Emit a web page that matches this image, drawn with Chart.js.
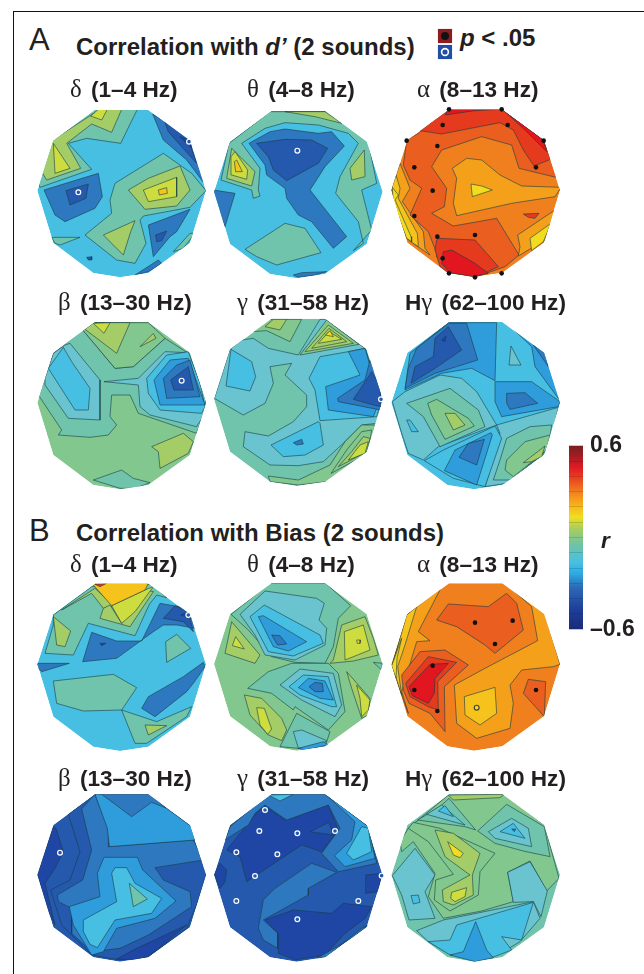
<!DOCTYPE html>
<html>
<head>
<meta charset="utf-8">
<title>Correlation maps</title>
<script src="https://cdn.jsdelivr.net/npm/chart.js@4"></script>
<style>
    html, body { margin: 0; padding: 0; background: #fff; }
    #page { position: relative; width: 644px; height: 974px; overflow: hidden; font-family: "Liberation Sans", Arial, sans-serif; color: #231f20; }
    #page canvas { position: absolute; filter: blur(0.4px); }
    #frame { position: absolute; left: 13px; top: 11px; width: 640px; height: 980px; border: 1.5px solid #111; }
    .txt { position: absolute; white-space: nowrap; line-height: 1; font-weight: bold; }
    .txt i.gr { font-family: "Liberation Serif", serif; font-style: normal; font-weight: normal; font-size: 1.1em; margin-right: 3px; }
    .big { font-size: 31px; font-weight: normal; }
    .head { font-size: 24px; }
    .sub { font-size: 22.6px; }
</style>
</head>
<body>
<div id="page"><div id="frame"></div></div>
<script>
// contour levels, low r to high r
const levelColors = ['#1f46a5', '#2459ae', '#2e78bf', '#2f9cdb', '#47bfe3', '#69c4cf', '#6fc4ab', '#82c78d',
    '#a4cd68', '#cddc3f', '#f3dc1f', '#f6c21c', '#f4a01b', '#f07f1d', '#ea5e1f', '#e63a1e', '#e2161f'];

// head outline, relative to each map's centre
const headOutline = [-80,-247, 80,-247, 205,-155, 253,-5, 205,152, 80,242, -5,255, -85,242, -205,152, -253,-5, -205,-155];

// regions are [level, [x,y, x,y, ...]], later ones lie on top
const aDelta = [
    [6, [225,28, 352,28, 302,130, 200,115, 145,130, 215,208, 60,262, 50,240, 100,110]],
    [8, [98,120, 240,28, 305,28, 275,97, 215,72, 140,130, 182,205, 80,240, 65,215]],
    [9, [100,130, 150,205, 105,220]],
    [9, [212,48, 235,28, 262,28, 245,60]],
    [2, [398,42, 510,110, 560,260, 500,180, 430,120]],
    [1, [430,55, 505,115, 530,190, 480,135, 445,95]],
    [0, [480,110, 510,120, 515,145]],
    [2, [72,270, 235,220, 247,290, 225,325, 135,365, 105,345]],
    [1, [138,272, 205,252, 198,295, 150,315]],
    [6, [285,250, 430,160, 515,220, 558,272, 510,322, 370,348, 360,360, 378,430, 345,490, 290,480, 195,405, 275,340, 270,300]],
    [8, [325,270, 385,235, 480,198, 510,270, 470,318, 375,328]],
    [9, [370,270, 470,232, 470,290, 385,305]],
    [11, [415,270, 440,263, 442,280, 418,285]],
    [8, [250,405, 345,362, 332,395, 310,465]],
    [2, [385,375, 510,328, 470,395, 450,410, 400,470]],
    [1, [407,405, 440,393, 425,422, 410,425]],
    [6, [460,455, 510,400, 525,400, 490,445]],
    [6, [95,412, 180,412, 120,435, 105,430]],
    [2, [345,525, 415,480, 425,490, 385,515]],
    [1, [200,472, 215,470, 215,480, 205,480]]
];
const aTheta = [
    [6, [72,130, 195,35, 365,35, 490,125, 515,250, 470,270, 500,390, 445,452, 475,430, 460,365, 392,280, 405,230, 460,130, 430,100, 340,75, 240,68, 180,85, 110,130, 165,205, 160,270, 165,288, 145,295, 140,270, 48,240]],
    [8, [240,35, 360,35, 410,70, 330,50]],
    [8, [435,205, 478,150, 480,230, 440,240]],
    [8, [65,235, 80,145, 150,215, 140,258]],
    [9, [78,170, 90,155, 128,210, 125,238, 80,225]],
    [11, [88,185, 95,180, 112,215, 92,215]],
    [2, [132,130, 195,95, 240,87, 340,100, 380,95, 418,138, 360,200, 315,270, 425,410, 385,445, 320,365, 280,345, 245,295, 240,265, 185,225, 180,195]],
    [1, [155,130, 240,118, 320,120, 368,145, 340,190, 245,242, 205,210, 190,170]],
    [2, [25,270, 90,280, 60,380, 25,290]],
    [6, [120,448, 240,370, 300,385, 348,458, 215,495, 155,470]],
    [2, [265,525, 290,518, 365,515, 330,525, 280,532]]
];
const aAlpha = [
    [12, [45,190, 75,265, 52,305, 115,395, 120,445, 135,465, 85,430, 30,330, 20,265]],
    [11, [33,225, 45,265, 40,295, 97,400, 100,440, 70,420, 25,310, 20,265]],
    [10, [22,262, 40,285, 30,300, 78,410, 80,425, 65,415, 25,310]],
    [14, [65,120, 100,100, 190,28, 350,28, 475,120, 525,235, 402,205, 380,135, 290,110, 170,150, 140,200, 185,265, 178,320, 140,340, 205,378, 335,355, 402,465, 360,500, 270,532, 190,520, 155,470, 155,460, 130,395, 75,345, 110,265, 75,240, 55,195]],
    [15, [105,92, 190,28, 350,28, 475,120, 497,178, 447,198, 415,150, 385,90, 345,68, 170,102]],
    [16, [180,45, 190,28, 345,28, 270,32]],
    [16, [352,28, 475,120, 485,155, 420,90]],
    [12, [202,205, 245,175, 290,180, 345,225, 410,258, 528,262, 510,290, 380,310, 215,347, 205,310, 215,235]],
    [10, [258,252, 290,258, 322,270, 262,290]],
    [12, [398,405, 510,330, 480,420, 400,468, 405,440]],
    [10, [435,415, 498,370, 475,425, 440,452]],
    [15, [415,342, 462,340, 450,355, 430,352]],
    [15, [155,420, 160,415, 270,420, 340,500, 280,528, 190,520, 165,500, 150,450]],
    [16, [175,455, 200,450, 270,490, 310,520, 265,530, 195,518, 170,490]]
];
const aBeta = [
    [6, [52,270, 100,130, 215,38, 190,62, 285,175, 340,170, 435,85, 505,130, 558,270, 550,310, 530,370, 355,310, 330,255, 275,255, 270,320, 290,345, 265,375, 210,382, 115,375, 125,360, 55,255]],
    [7, [190,62, 215,38, 385,38, 435,85, 340,170, 285,175]],
    [8, [195,58, 222,38, 330,38, 290,130]],
    [9, [220,40, 270,38, 252,70]],
    [8, [360,110, 400,70, 408,85]],
    [5, [75,205, 100,130, 135,105, 150,100, 240,210, 240,330, 145,325, 75,225]],
    [4, [85,175, 130,112, 155,155, 210,235, 205,300, 165,300]],
    [5, [252,215, 355,205, 435,125, 505,128, 558,270, 555,310, 530,350, 390,315, 360,290, 355,225]],
    [4, [380,205, 440,135, 505,125, 540,220, 555,290, 545,310, 420,300, 385,250]],
    [3, [402,210, 450,150, 505,145, 555,285, 420,285]],
    [2, [430,205, 470,165, 510,150, 540,260, 440,265]],
    [1, [452,210, 505,170, 520,240, 462,240]],
    [6, [220,510, 305,480, 340,505, 390,518, 345,535, 300,535]],
    [8, [395,410, 490,370, 520,395, 505,430, 420,475, 415,425]]
];
const aGamma = [
    [5, [28,265, 75,118, 110,90, 145,85, 190,115, 280,135, 345,28, 362,28, 480,115, 530,270, 515,340, 470,345, 420,395, 355,455, 280,467, 195,465, 115,410, 120,365, 190,378, 265,335, 305,290, 305,255, 240,195, 260,160, 195,170, 205,220, 180,280, 115,315]],
    [7, [140,65, 190,28, 290,28, 255,95, 185,62]],
    [8, [180,50, 205,28, 245,28, 225,60]],
    [4, [78,118, 140,155, 152,200, 135,243, 63,228]],
    [4, [198,405, 340,335, 345,340, 355,405, 300,435, 235,440]],
    [2, [265,398, 290,388, 295,402, 275,405]],
    [4, [312,205, 345,140, 430,125, 480,115, 530,270, 515,320, 345,332, 330,240]],
    [3, [362,230, 465,195, 430,125, 480,115, 525,270, 505,320, 370,300]],
    [2, [398,265, 480,210, 495,150, 528,230, 527,300, 400,275]],
    [1, [445,268, 500,185, 525,225, 528,290, 505,285]],
    [7, [285,135, 365,30, 462,103]],
    [8, [300,125, 370,45, 445,100]],
    [8, [320,115, 372,55, 425,95]],
    [9, [340,100, 372,65, 410,88]],
    [10, [362,75, 375,62, 385,80]],
    [7, [190,498, 280,510, 375,465, 420,395, 470,345, 510,345, 490,430, 365,515, 280,525, 195,515]],
    [7, [378,490, 425,420, 470,365, 500,360, 490,430]],
    [8, [400,470, 440,425, 475,380, 495,385, 485,425]],
    [9, [430,450, 465,405, 490,395, 480,430]]
];
const aHigh = [
    [3, [190,38, 335,38, 330,212, 260,175, 170,190, 60,240, 75,130]],
    [2, [60,235, 70,175, 95,115, 190,40, 245,40, 278,150, 150,190]],
    [1, [78,220, 90,170, 145,140, 150,85, 190,50, 230,120, 150,175]],
    [0, [170,90, 183,78, 180,95]],
    [3, [368,42, 440,110, 450,170, 525,272, 490,130]],
    [2, [445,105, 480,125, 490,170]],
    [5, [378,108, 408,165, 372,165]],
    [3, [330,215, 440,215, 525,275, 520,290, 350,320, 330,275]],
    [2, [365,250, 420,248, 458,280, 375,298, 365,280]],
    [5, [22,275, 60,245, 165,195, 230,205, 275,245, 335,345, 160,410, 115,450, 70,430, 50,370]],
    [5, [335,345, 520,292, 490,420, 365,520, 300,530, 345,370]],
    [6, [65,280, 195,235, 280,300, 300,350, 165,410, 115,320]],
    [7, [128,280, 155,268, 250,325, 268,348, 180,388, 140,315]],
    [8, [180,310, 210,310, 240,345, 205,360]],
    [4, [65,330, 75,330, 100,365, 80,365]],
    [6, [325,510, 345,450, 365,385, 435,350, 500,345, 490,415, 380,510]],
    [7, [360,480, 365,450, 420,395, 495,375, 485,420, 385,500]],
    [8, [415,458, 480,408, 470,440, 440,455]],
    [4, [118,452, 175,420, 330,348, 350,385, 300,530, 205,505]],
    [3, [178,482, 210,420, 318,368, 322,375, 275,525]],
    [2, [222,442, 250,400, 298,388, 275,465]]
];
const bDelta = [
    [6, [100,120, 215,35, 395,28, 440,68, 410,60, 388,88, 345,182, 205,145, 160,240, 75,235, 100,150]],
    [8, [125,105, 225,40, 280,92, 250,100, 215,55]],
    [8, [240,130, 250,100, 270,90, 305,145, 375,45, 400,50, 330,155]],
    [9, [275,92, 375,45, 400,35, 345,110, 305,145]],
    [11, [220,30, 225,25, 385,25, 375,45, 275,92]],
    [15, [225,28, 260,25, 240,35]],
    [8, [100,125, 152,168, 135,215, 110,210]],
    [2, [188,260, 215,172, 290,198, 365,198, 420,85, 505,100, 525,160, 470,150, 430,150, 400,170, 290,250]],
    [1, [430,130, 465,92, 505,110, 520,170, 490,140]],
    [0, [482,120, 505,110, 515,130]],
    [0, [240,205, 258,205, 245,212]],
    [2, [50,265, 148,265, 65,290, 50,275]],
    [6, [437,200, 470,178, 512,220, 440,262]],
    [6, [100,318, 280,298, 350,338, 305,405, 190,408, 110,385]],
    [2, [365,400, 385,365, 490,305, 550,262, 555,275, 520,325, 500,350, 405,425]],
    [6, [305,405, 410,440, 515,395, 500,425, 380,505, 345,505]],
    [8, [375,450, 440,452, 385,480]]
];
const bTheta = [
    [6, [78,118, 195,25, 362,25, 437,92, 400,130, 385,215, 360,265, 270,262, 200,245, 130,165]],
    [5, [105,118, 180,48, 335,70, 358,85, 342,135, 365,160, 360,210, 270,255, 180,240, 150,180]],
    [4, [135,125, 178,90, 345,180, 355,205, 265,243, 190,230]],
    [3, [160,125, 175,122, 305,200, 250,228, 205,215]],
    [2, [200,180, 225,182, 245,207, 218,210]],
    [6, [128,340, 190,290, 260,265, 370,265, 400,295, 420,410, 370,465, 270,395, 265,405, 200,355]],
    [5, [225,330, 285,282, 385,295, 410,390, 390,425, 290,375]],
    [4, [252,335, 295,300, 370,305, 395,395, 380,395, 285,360]],
    [3, [280,338, 310,310, 360,318, 385,375, 345,370]],
    [2, [312,335, 330,322, 352,325, 355,350, 330,350]],
    [8, [410,150, 480,125, 505,190, 520,240, 445,258, 375,265, 385,255]],
    [9, [418,170, 475,150, 495,225, 420,255]],
    [10, [455,195, 467,195, 465,205, 457,205]],
    [6, [505,262, 532,265, 530,285]],
    [8, [425,290, 495,370, 490,420, 470,430, 440,340]],
    [9, [455,330, 495,375, 490,405, 470,425, 465,370]],
    [8, [60,235, 80,140, 165,240, 150,265]],
    [9, [82,212, 92,185, 118,222]],
    [8, [118,360, 170,370, 230,430, 245,465, 230,497, 190,480, 135,420]],
    [9, [155,398, 178,400, 200,462, 188,478, 165,450]],
    [6, [225,515, 275,415, 375,470, 360,515, 280,520]],
    [5, [265,470, 290,465, 365,497, 340,515, 280,520]],
    [3, [280,520, 355,500, 370,510, 300,525]]
];
const bAlpha = [
    [12, [360,25, 478,108, 525,268, 505,275, 410,285, 375,330, 385,385, 375,460, 275,490, 215,445, 208,330, 300,280, 458,197, 440,95]],
    [14, [155,135, 190,87, 310,95, 365,55, 395,85, 415,165, 330,235, 300,210, 215,155]],
    [14, [415,355, 430,313, 482,320, 478,425]],
    [11, [238,365, 330,337, 335,415, 285,450, 240,420]],
    [12, [170,35, 100,170, 135,197, 95,200, 65,300, 50,350, 70,415, 25,290, 20,273, 65,120]],
    [11, [95,95, 60,210, 38,275, 50,360, 22,273, 65,120]],
    [10, [50,190, 36,250, 33,310, 20,273]],
    [14, [50,300, 105,230, 180,225, 250,270, 178,335, 180,470, 135,415, 72,385, 55,345]],
    [15, [62,325, 130,245, 215,262, 158,320, 160,405, 130,395, 75,365]],
    [16, [72,335, 135,268, 190,265, 150,310, 148,355, 130,385, 82,362]]
];
const bBeta = [
    [0, [52,268, 100,125, 108,130, 130,200, 105,250, 75,295, 105,420, 85,380]],
    [1, [145,88, 180,200, 150,285, 92,315, 125,420, 215,510, 300,525, 385,515, 500,430, 530,360, 558,270, 550,225, 225,28]],
    [2, [225,28, 185,72, 215,195, 188,285, 112,330, 115,350, 155,370, 155,445, 215,500, 300,490, 385,450, 515,365, 510,320, 430,285, 405,248, 550,225, 520,165, 265,185, 265,130]],
    [2, [240,28, 390,28, 440,70, 335,100]],
    [3, [225,28, 245,28, 335,95, 395,52, 440,70, 515,125, 525,165, 268,185, 262,130]],
    [3, [148,365, 240,335, 232,265, 252,217, 352,217, 368,255, 468,348, 405,400, 290,430, 250,500, 215,510, 160,420]],
    [4, [190,405, 290,350, 275,265, 285,248, 320,248, 345,295, 425,340, 395,385, 285,405, 232,488, 210,478, 190,440]],
    [6, [328,295, 382,342, 340,365]],
    [0, [290,522, 350,490, 500,420, 385,515, 340,525]]
];
const bGamma = [
    [0, [65,195, 150,90, 175,60, 240,105, 370,60, 400,135, 350,200, 290,180, 125,290, 105,215]],
    [2, [75,125, 190,28, 360,28, 490,125, 515,235, 400,260, 350,205, 405,130, 370,60, 245,105, 180,60, 150,85, 130,120, 60,165]],
    [4, [190,30, 265,28, 225,48]],
    [1, [315,140, 372,112, 385,150]],
    [3, [388,212, 440,165, 450,110, 362,28, 490,125, 510,220, 420,245]],
    [4, [425,205, 470,125, 490,130, 500,200, 445,225]],
    [2, [160,430, 175,345, 210,310, 320,235, 395,262, 310,310, 310,330, 175,405, 218,445, 218,490, 175,465]],
    [0, [28,268, 45,235, 65,255, 60,290, 45,310]],
    [0, [180,405, 265,375, 380,385, 415,355, 500,365, 480,400, 420,445, 360,510, 270,525, 220,505, 220,445]],
    [0, [482,270, 530,265, 520,320, 482,325]],
    [2, [335,520, 440,460, 490,420, 470,430, 365,515]]
];
const bHigh = [
    [7, [70,130, 190,30, 358,28, 478,120, 522,280, 485,318, 435,228, 368,262, 385,350, 290,378, 175,400, 130,335, 150,265, 85,170, 50,200, 45,170]],
    [5, [22,272, 90,190, 150,270, 120,320, 150,400, 72,405, 50,330]],
    [4, [78,332, 100,330, 105,352, 85,357]],
    [5, [368,262, 435,230, 487,318, 468,395, 445,350, 385,352]],
    [5, [95,437, 175,405, 445,350, 465,400, 405,470, 355,500, 320,515, 200,510, 130,470]],
    [4, [130,470, 195,465, 215,420, 445,352, 410,465, 350,455, 380,495, 320,518, 195,510]],
    [3, [195,510, 235,500, 272,410, 305,495, 325,518, 270,530]],
    [7, [70,130, 85,112, 165,130, 330,205, 285,260, 280,330, 195,378, 148,345, 152,285, 205,268, 130,170]],
    [8, [150,135, 205,145, 285,205, 262,270, 265,330, 205,360, 175,350, 172,315, 255,270, 180,215]],
    [10, [188,170, 235,205, 225,218, 205,210]],
    [9, [197,340, 200,322, 245,308, 240,335, 210,350]],
    [6, [98,105, 165,65, 192,40, 272,135, 240,125]],
    [5, [125,88, 170,60, 240,120]],
    [4, [160,78, 180,62, 205,95]],
    [8, [190,30, 358,28, 345,38, 205,45]],
    [6, [278,138, 365,58, 478,125, 495,215, 415,198, 330,175]],
    [5, [310,140, 380,100, 430,130, 440,185, 330,160]],
    [4, [345,140, 385,115, 420,160]],
    [2, [380,132, 392,132, 388,140]]
];

// significant electrodes: filled dots and open rings
const aDeltaOpen = [175,277, 507,125];
const aThetaOpen = [277,152];
const aAlphaDots = [192,28, 350,28, 173,75, 368,75, 65,122, 157,138, 476,122, 88,202, 453,202, 143,272, 88,348, 157,410, 270,405, 173,475, 192,520, 350,520, 270,532];
const aBetaOpen = [485,212];
const aGammaOpen = [528,268];
const bDeltaOpen = [505,120];
const bAlphaDots = [270,143, 383,137, 330,207, 143,272, 88,345, 157,408, 453,345];
const bAlphaOpen = [275,398];
const bBetaOpen = [120,203];
const bGammaOpen = [180,75, 163,138, 277,145, 390,138, 94,202, 217,208, 150,273, 94,348, 460,348, 277,403, 530,272];

const colorbarRange = [-0.6, 0.6];
const colorbarStep = 0.1;
const colorbarStops = ['#1a2a7a', '#1f3f9a', '#2b6bb8', '#2ca8e0', '#45bfe5', '#6fc4a5', '#a8cd5c', '#efdf20', '#f7b01a', '#f07f1d', '#ea4420', '#e01b23', '#9e1c24', '#7a1f1f'];
const colorbarOffsets = [0, 0.11, 0.23, 0.3, 0.36, 0.46, 0.55, 0.61, 0.68, 0.75, 0.82, 0.88, 0.95, 1];

// bg is the level of the whole head, cx/cy its centre in map units
const maps = [
    { left: 20, top: 100, cx: 305, cy: 277, bg: 4, regions: aDelta, open: aDeltaOpen },
    { left: 205, top: 100, cx: 280, cy: 280, bg: 4, regions: aTheta, open: aThetaOpen },
    { left: 385, top: 100, cx: 272, cy: 276, bg: 13, regions: aAlpha, dots: aAlphaDots },
    { left: 20, top: 310, cx: 305, cy: 283, bg: 7, regions: aBeta, open: aBetaOpen },
    { left: 205, top: 310, cx: 280, cy: 273, bg: 6, regions: aGamma, open: aGammaOpen },
    { left: 385, top: 310, cx: 272, cy: 283, bg: 4, regions: aHigh },
    { left: 20, top: 575, cx: 305, cy: 273, bg: 4, regions: bDelta, open: bDeltaOpen },
    { left: 205, top: 575, cx: 280, cy: 272, bg: 7, regions: bTheta },
    { left: 385, top: 575, cx: 272, cy: 272, bg: 13, regions: bAlpha, dots: bAlphaDots, open: bAlphaOpen },
    { left: 20, top: 785, cx: 305, cy: 275, bg: 1, regions: bBeta, open: bBetaOpen },
    { left: 205, top: 785, cx: 280, cy: 275, bg: 1, regions: bGamma, open: bGammaOpen },
    { left: 385, top: 785, cx: 272, cy: 275, bg: 6, regions: bHigh }
];

const labels = [
    ['big', 29, 24, 'A'], ['big', 29, 515, 'B'],
    ['head', 76, 35, 'Correlation with <i>d\u2019</i> (2 sounds)'],
    ['head', 76, 521, 'Correlation with Bias (2 sounds)'],
    ['head', 460, 26, '<i>p</i> &lt; .05'],
    ['sub', 70, 77, '<i class="gr">\u03b4</i> (1\u20134 Hz)'],
    ['sub', 247, 77, '<i class="gr">\u03b8</i> (4\u20138 Hz)'],
    ['sub', 417, 77, '<i class="gr">\u03b1</i> (8\u201313 Hz)'],
    ['sub', 58, 290, '<i class="gr">\u03b2</i> (13\u201330 Hz)'],
    ['sub', 237, 290, '<i class="gr">\u03b3</i> (31\u201358 Hz)'],
    ['sub', 405, 290, 'H<i class="gr">\u03b3</i> (62\u2013100 Hz)'],
    ['sub', 70, 552, '<i class="gr">\u03b4</i> (1\u20134 Hz)'],
    ['sub', 247, 552, '<i class="gr">\u03b8</i> (4\u20138 Hz)'],
    ['sub', 417, 552, '<i class="gr">\u03b1</i> (8\u201313 Hz)'],
    ['sub', 58, 766, '<i class="gr">\u03b2</i> (13\u201330 Hz)'],
    ['sub', 237, 766, '<i class="gr">\u03b3</i> (31\u201358 Hz)'],
    ['sub', 405, 766, 'H<i class="gr">\u03b3</i> (62\u2013100 Hz)'],
    ['sub', 601, 530, '<i>r</i>']
];

const page = document.getElementById('page');

function addCanvas(left, top, w, h) {
    const c = document.createElement('canvas');
    c.width = w;
    c.height = h;
    c.style.left = left + 'px';
    c.style.top = top + 'px';
    c.style.width = w + 'px';
    c.style.height = h + 'px';
    page.appendChild(c);
    return c;
}

function toPoints(flat) {
    let pts = [];
    for (let i = 0; i < flat.length; i += 2) {
        pts.push({ x: flat[i], y: flat[i + 1] });
    }
    return pts;
}

function regionDataset(level, pts, lined) {
    return {
        data: pts.concat([pts[0]]),
        showLine: true,
        fill: 'shape',
        tension: 0,
        pointRadius: 0,
        backgroundColor: levelColors[level],
        borderColor: lined ? 'rgba(25,60,70,.85)' : 'transparent',
        borderWidth: lined ? 0.7 : 0
    };
}

// everything but the electrodes stays inside the head
const clipToHead = {
    id: 'clipToHead',
    beforeDatasetsDraw(chart) {
        const m = chart.config.options.plugins.clipToHead.map;
        const ctx = chart.ctx;
        const pts = toPoints(headOutline);
        ctx.save();
        ctx.beginPath();
        pts.forEach(function (p, i) {
            const px = chart.scales.x.getPixelForValue(m.cx + p.x);
            const py = chart.scales.y.getPixelForValue(m.cy + p.y);
            if (i === 0) ctx.moveTo(px, py); else ctx.lineTo(px, py);
        });
        ctx.closePath();
        ctx.clip();
    },
    beforeDatasetDraw(chart, args) {
        if (args.index === 0) chart.ctx.restore();
    }
};

function drawMap(m) {
    const head = toPoints(headOutline).map(function (p) { return { x: m.cx + p.x, y: m.cy + p.y }; });
    let list = [regionDataset(m.bg, head, false)];
    m.regions.forEach(function (r) {
        list.push(regionDataset(r[0], toPoints(r[1]), true));
    });
    const dots = toPoints(m.dots || []);
    const open = toPoints(m.open || []);
    const marks = {
        data: dots.concat(open),
        showLine: false,
        clip: false,
        pointRadius: function (c) { return c.dataIndex < dots.length ? 2.3 : 2.4; },
        pointBackgroundColor: function (c) { return c.dataIndex < dots.length ? '#111' : (m.dots ? '#f3dc1f' : '#2459ae'); },
        pointBorderColor: function (c) { return c.dataIndex < dots.length ? '#111' : (m.dots ? '#444' : '#fff'); },
        pointBorderWidth: function (c) { return c.dataIndex < dots.length ? 0 : 1.2; }
    };
    new Chart(addCanvas(m.left, m.top, 190, 190), {
        type: 'scatter',
        data: { datasets: [marks].concat(list.reverse()) },
        plugins: [clipToHead],
        options: {
            responsive: false,
            animation: false,
            events: [],
            layout: { padding: 0, autoPadding: false },
            plugins: { legend: { display: false }, tooltip: { enabled: false }, clipToHead: { map: m } },
            scales: {
                x: { display: false, min: 0, max: 570 },
                y: { display: false, min: 0, max: 570, reverse: true }
            }
        }
    });
}

function drawColorbar() {
    new Chart(addCanvas(569, 425, 75, 225), {
        type: 'bar',
        data: {
            labels: ['r'],
            datasets: [{
                data: [colorbarRange],
                barPercentage: 1,
                categoryPercentage: 1,
                borderSkipped: false,
                backgroundColor: function (c) {
                    const area = c.chart.chartArea;
                    if (!area) return '#888';
                    const g = c.chart.ctx.createLinearGradient(0, area.bottom, 0, area.top);
                    colorbarStops.forEach(function (col, i) { g.addColorStop(colorbarOffsets[i], col); });
                    return g;
                }
            }]
        },
        options: {
            responsive: false,
            animation: false,
            events: [],
            layout: { padding: { top: 15, bottom: 18, left: 0, right: 0 }, autoPadding: false },
            plugins: { legend: { display: false }, tooltip: { enabled: false } },
            scales: {
                x: { display: false },
                y: {
                    position: 'right',
                    min: colorbarRange[0],
                    max: colorbarRange[1],
                    border: { display: false },
                    afterFit: function (s) { s.width = 61; },
                    grid: { drawTicks: false, z: 1, color: 'rgba(20,20,20,.22)', lineWidth: 0.7 },
                    ticks: {
                        stepSize: colorbarStep,
                        autoSkip: false,
                        color: '#231f20',
                        padding: 7,
                        font: { family: '"Liberation Sans", Arial, sans-serif', size: 23, weight: 'bold' },
                        callback: function (v) {
                            if (v > 0.59) return '0.6';
                            if (v < -0.59) return '\u20130.6';
                            return '';
                        }
                    }
                }
            }
        }
    });
}

function drawKey() {
    new Chart(addCanvas(434, 24, 22, 40), {
        type: 'scatter',
        data: {
            datasets: [
                { data: [{ x: 1, y: 1.2 }], pointRadius: 4, pointBackgroundColor: '#111', pointBorderWidth: 0 },
                { data: [{ x: 1, y: 2.8 }], pointRadius: 3.4, pointBackgroundColor: '#1f4fa5', pointBorderColor: '#fff', pointBorderWidth: 1.6 },
                { data: [{ x: 1, y: 1.2 }], pointStyle: 'rect', pointRadius: 10, pointBackgroundColor: '#8e1b20', pointBorderWidth: 0 },
                { data: [{ x: 1, y: 2.8 }], pointStyle: 'rect', pointRadius: 10, pointBackgroundColor: '#1f4fa5', pointBorderWidth: 0 }
            ]
        },
        options: {
            responsive: false,
            animation: false,
            events: [],
            layout: { autoPadding: false },
            plugins: { legend: { display: false }, tooltip: { enabled: false } },
            scales: {
                x: { display: false, min: 0, max: 2 },
                y: { display: false, min: 0, max: 4, reverse: true }
            }
        }
    });
}

maps.forEach(drawMap);
drawColorbar();
drawKey();

labels.forEach(function (l) {
    const d = document.createElement('div');
    d.className = 'txt ' + l[0];
    d.style.left = l[1] + 'px';
    d.style.top = l[2] + 'px';
    d.innerHTML = l[3];
    page.appendChild(d);
});
</script>
</body>
</html>
